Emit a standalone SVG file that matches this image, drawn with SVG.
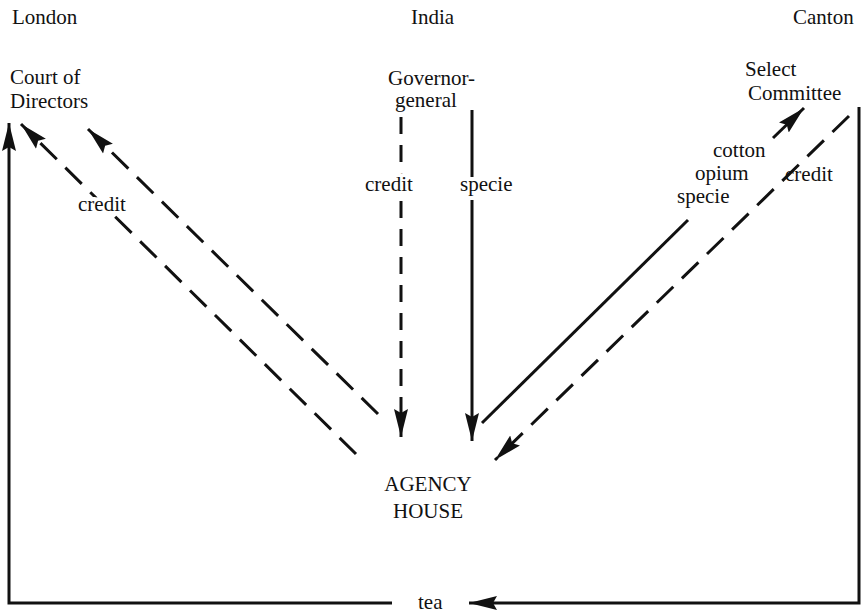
<svg xmlns="http://www.w3.org/2000/svg" width="861" height="614" viewBox="0 0 861 614">
  <style>
    text { font-family: "Liberation Serif", "Times New Roman", serif; font-size: 21px; fill: #111; }
    .halo { stroke: #fff; stroke-width: 8; stroke-linejoin: round; paint-order: stroke; }
    .solid { fill: none; stroke: #111; stroke-width: 3; }
    .dash { fill: none; stroke: #111; stroke-width: 3; stroke-dasharray: 23 12; }
    .vdash { fill: none; stroke: #111; stroke-width: 3; stroke-dasharray: 17 11; }
  </style>
  <defs>
    <marker id="arr" markerUnits="userSpaceOnUse" markerWidth="30" markerHeight="18" viewBox="0 -9 30 18" refX="28" refY="0" orient="auto">
      <path d="M0,-7 L28,0 L0,7 L4,0 z" fill="#111"/>
    </marker>
  </defs>
  <rect width="861" height="614" fill="#fff"/>

  <g id="connectors">
    <!-- tea loop -->
    <path class="solid" d="M859,107 V603 H469" marker-end="url(#arr)"/>
    <path class="solid" d="M392,603 H9 V123" marker-end="url(#arr)"/>
    <!-- credit agency -> Court of Directors -->
    <path class="dash" d="M356,454 L21,124" marker-end="url(#arr)"/>
    <path class="dash" d="M378,414 L88,129" marker-end="url(#arr)"/>
    <!-- Governor-general credit / specie -->
    <path class="vdash" d="M401,117 V437" marker-end="url(#arr)"/>
    <path class="solid" d="M472,110 V441" marker-end="url(#arr)"/>
    <!-- cotton opium specie to Select Committee -->
    <path class="solid" d="M482,423 L688,220"/>
    <path class="solid" d="M773,138 L804,108" marker-end="url(#arr)"/>
    <!-- credit Canton -> agency -->
    <path class="dash" d="M849,116 L495,460" marker-end="url(#arr)"/>
  </g>

  <g id="london"><text x="12" y="24">London</text></g>
  <g id="india"><text x="411" y="24">India</text></g>
  <g id="canton"><text x="793" y="24">Canton</text></g>

  <g id="court-of-directors">
    <text x="10" y="84">Court of</text>
    <text x="10" y="108">Directors</text>
  </g>
  <g id="governor-general">
    <text x="388" y="85">Governor-</text>
    <text x="395" y="107">general</text>
  </g>
  <g id="select-committee">
    <text x="745" y="76">Select</text>
    <text x="748" y="100">Committee</text>
  </g>
  <g id="agency-house">
    <text x="428" y="491" text-anchor="middle">AGENCY</text>
    <text x="428" y="518" text-anchor="middle">HOUSE</text>
  </g>

  <g id="labels">
    <text class="halo" x="78" y="211">credit</text>
    <text class="halo" x="365" y="191">credit</text>
    <text class="halo" x="460" y="191">specie</text>
    <text x="713" y="157">cotton</text>
    <text x="695" y="180">opium</text>
    <text x="677" y="203">specie</text>
    <text x="785" y="181">credit</text>
    <text x="418" y="609">tea</text>
  </g>
</svg>
